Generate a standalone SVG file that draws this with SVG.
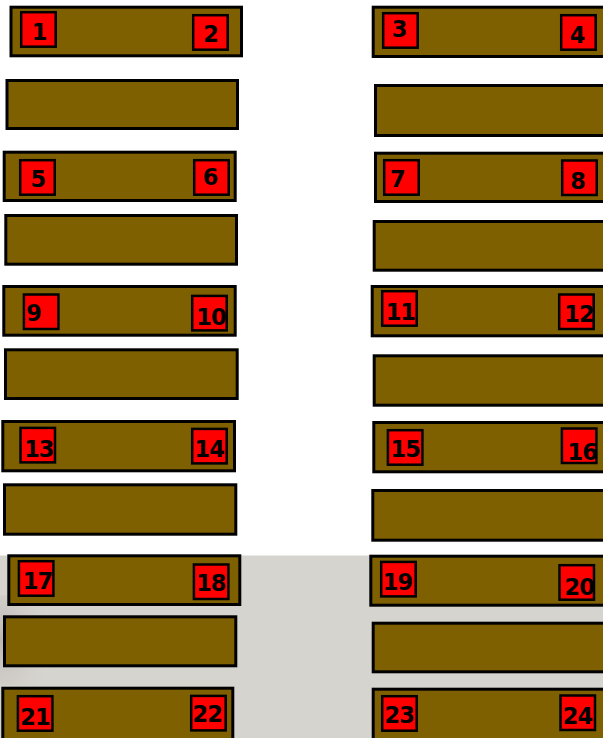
<svg xmlns="http://www.w3.org/2000/svg" width="603" height="738" viewBox="0 0 603 738">
<style>
.bar{fill:#7f6000;stroke:#000;stroke-width:3}
.sq{fill:#ff0000;stroke:#000;stroke-width:2.5}
.n{font-family:"DejaVu Sans","Liberation Sans",sans-serif;font-weight:bold;font-size:22.5px;fill:#000;text-anchor:middle;letter-spacing:-1px}
</style>
<defs>
<radialGradient id="dark" cx="0" cy="0.5" r="0.9">
<stop offset="0" stop-color="#b8b2ae" stop-opacity="0.9"/>
<stop offset="1" stop-color="#d6d3ce" stop-opacity="0"/>
</radialGradient>
</defs>
<rect x="0" y="0" width="603" height="738" fill="#ffffff"/>
<rect x="0" y="555.5" width="603" height="182.5" fill="#d6d4cf"/>
<rect x="0" y="595" width="60" height="90" fill="url(#dark)"/>

<g id="bar-1-2"><rect class="bar" x="11" y="7.2" width="230.5" height="48.6"/>
<rect class="sq" x="21.2" y="12.2" width="34.5" height="34.5"/><text class="n" x="39" y="40">1</text>
<rect class="sq" x="193.2" y="15.2" width="34.5" height="34.5"/><text class="n" x="210.7" y="41.7">2</text></g>
<g id="blank-1"><rect class="bar" x="7" y="80.5" width="230.5" height="48"/></g>

<g id="bar-3-4"><rect class="bar" x="373.2" y="7.2" width="240" height="49.3"/>
<rect class="sq" x="383.2" y="13.2" width="34.5" height="34.5"/><text class="n" x="399" y="36.7">3</text>
<rect class="sq" x="561.2" y="15.2" width="34.5" height="34.5"/><text class="n" x="577" y="43.3">4</text></g>
<g id="blank-2"><rect class="bar" x="375.5" y="85.5" width="240" height="50"/></g>

<g id="bar-5-6"><rect class="bar" x="4.2" y="152.2" width="231" height="48.3"/>
<rect class="sq" x="20.2" y="160.2" width="34.5" height="34.5"/><text class="n" x="37.8" y="186.7">5</text>
<rect class="sq" x="194.2" y="160.2" width="34.5" height="34.5"/><text class="n" x="210" y="185">6</text></g>
<g id="blank-3"><rect class="bar" x="5.8" y="215.5" width="230.7" height="48.7"/></g>

<g id="bar-7-8"><rect class="bar" x="375.5" y="153.2" width="240" height="48.3"/>
<rect class="sq" x="384.2" y="160.2" width="34.5" height="34.5"/><text class="n" x="397.3" y="186.7">7</text>
<rect class="sq" x="562.2" y="160.5" width="34.5" height="34.5"/><text class="n" x="577.7" y="189">8</text></g>
<g id="blank-4"><rect class="bar" x="374.2" y="221.5" width="240" height="48.7"/></g>

<g id="bar-9-10"><rect class="bar" x="3.8" y="286.5" width="231.4" height="48.7"/>
<rect class="sq" x="23.9" y="294.5" width="34.5" height="34.5"/><text class="n" x="33.7" y="321">9</text>
<rect class="sq" x="192.2" y="295.9" width="34.5" height="34.5"/><text class="n" x="211" y="325">10</text></g>
<g id="blank-5"><rect class="bar" x="5.5" y="349.8" width="231.7" height="48.7"/></g>

<g id="bar-11-12"><rect class="bar" x="372.2" y="286.5" width="240" height="49.3"/>
<rect class="sq" x="382.2" y="291.2" width="34.5" height="34.5"/><text class="n" x="400.3" y="320">11</text>
<rect class="sq" x="559.2" y="294.5" width="34.5" height="34.5"/><text class="n" x="579" y="321.7">12</text></g>
<g id="blank-6"><rect class="bar" x="374.2" y="355.8" width="240" height="49.4"/></g>

<g id="bar-13-14"><rect class="bar" x="2.8" y="421.5" width="231.7" height="49.3"/>
<rect class="sq" x="20.5" y="427.9" width="34.5" height="34.5"/><text class="n" x="38.8" y="456.7">13</text>
<rect class="sq" x="192.2" y="428.9" width="34.5" height="34.5"/><text class="n" x="209.2" y="457.3">14</text></g>
<g id="blank-7"><rect class="bar" x="4.5" y="484.8" width="231.3" height="49.4"/></g>

<g id="bar-15-16"><rect class="bar" x="373.8" y="422.5" width="240" height="49.3"/>
<rect class="sq" x="387.9" y="430.2" width="34.5" height="34.5"/><text class="n" x="405.2" y="456.7">15</text>
<rect class="sq" x="561.9" y="428.5" width="34.5" height="34.5"/><text class="n" x="582.2" y="460">16</text></g>
<g id="blank-8"><rect class="bar" x="372.8" y="490.5" width="240" height="49.7"/></g>

<g id="bar-17-18"><rect class="bar" x="8.8" y="555.8" width="231" height="48.7"/>
<rect class="sq" x="18.9" y="561.2" width="34.5" height="34.5"/><text class="n" x="37.5" y="589">17</text>
<rect class="sq" x="193.9" y="564.5" width="34.5" height="34.5"/><text class="n" x="210.8" y="591">18</text></g>
<g id="blank-9"><rect class="bar" x="4.5" y="616.8" width="231.3" height="49"/></g>

<g id="bar-19-20"><rect class="bar" x="370.8" y="556.2" width="240" height="49"/>
<rect class="sq" x="381.2" y="561.9" width="34.5" height="34.5"/><text class="n" x="397.5" y="590">19</text>
<rect class="sq" x="559.5" y="565.2" width="34.5" height="34.5"/><text class="n" x="579.2" y="595">20</text></g>
<g id="blank-10"><rect class="bar" x="373.2" y="623.2" width="240" height="48.6"/></g>

<g id="bar-21-22"><rect class="bar" x="2.8" y="688.2" width="230" height="60"/>
<rect class="sq" x="17.9" y="696.2" width="34.5" height="34.5"/><text class="n" x="35" y="725">21</text>
<rect class="sq" x="191.2" y="695.9" width="34.5" height="34.5"/><text class="n" x="207.2" y="721.7">22</text></g>

<g id="bar-23-24"><rect class="bar" x="373.2" y="689.2" width="240" height="60"/>
<rect class="sq" x="382.2" y="696.2" width="34.5" height="34.5"/><text class="n" x="399.2" y="722.7">23</text>
<rect class="sq" x="560.5" y="695.5" width="34.5" height="34.5"/><text class="n" x="577.5" y="724.3">24</text></g>
</svg>
